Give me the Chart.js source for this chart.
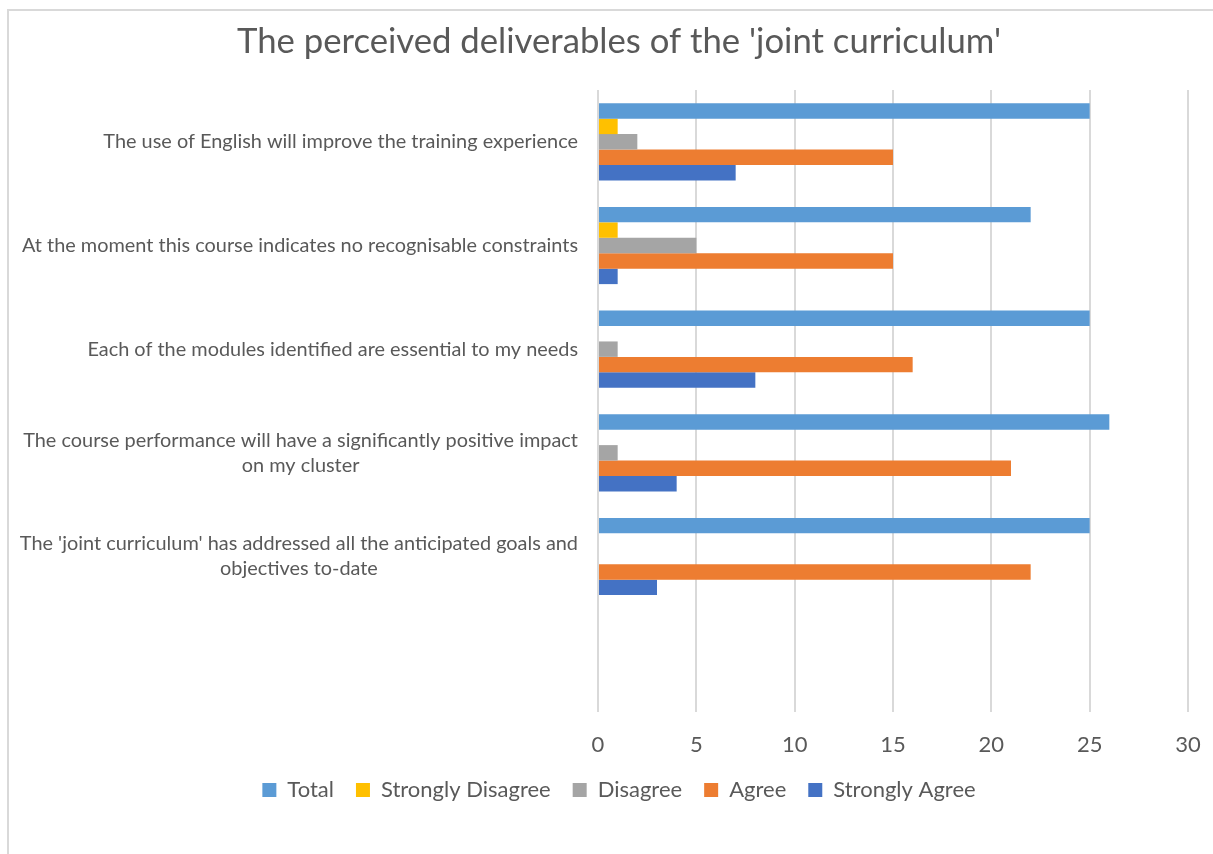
<!DOCTYPE html>
<html><head><meta charset="utf-8">
<script src="https://cdn.jsdelivr.net/npm/chart.js@4.4.1/dist/chart.umd.min.js"></script>
<style>
html,body{margin:0;padding:0;background:#fff;overflow:hidden;width:1213px;height:854px;}
#frame{position:absolute;left:7px;top:9px;width:1300px;height:900px;border:2px solid #d9d9d9;box-sizing:border-box;}
#wrap{position:absolute;left:0;top:0;width:1213px;height:854px;}
</style></head><body>
<div id="frame"></div>
<div id="wrap"><canvas id="c"></canvas></div>
<script>
const chartTitle = "The perceived deliverables of the 'joint curriculum'";
const categories = [
  "The use of English will improve the training experience",
  "At the moment this course indicates no recognisable constraints",
  "Each of the modules identified are essential to my needs",
  ["The course performance will have a significantly positive impact", "on my cluster"],
  ["The 'joint curriculum' has addressed all the anticipated goals and", "objectives to-date"],
  ""
];
const seriesNames = ["Total", "Strongly Disagree", "Disagree", "Agree", "Strongly Agree"];
const total = [25, 22, 25, 26, 25];
const stronglyDisagree = [1, 1, 0, 0, 0];
const disagree = [2, 5, 1, 1, 0];
const agree = [15, 15, 16, 21, 22];
const stronglyAgree = [7, 1, 8, 4, 3];
const xTicks = [0, 5, 10, 15, 20, 25, 30];
const seriesColors = ["#5B9BD5", "#FFC000", "#A5A5A5", "#ED7D31", "#4472C4"];

const FONT = "Lato, 'Open Sans', sans-serif";
const TEXT = "#595959";
function fit(text, w) {
  const c = document.createElement('canvas').getContext('2d');
  c.font = "100px " + FONT;
  return Math.round(1000 * w / c.measureText(text).width) / 10;
}
const sT = fit(chartTitle, 764);
const sY = fit(categories[1], 556);
const sL = fit("Strongly Disagree", 170);
const sX = sL;

const PLOT_TOP = 90, PLOT_BOTTOM = 712, PLOT_LEFT = 598, LEFT_PAD = 50, RIGHT_PAD = 25;
const titlePadTop = 42 - 0.6 * sT;
const titlePadBottom = PLOT_TOP - titlePadTop - 1.2 * sT;
const xTickPad = 745 - PLOT_BOTTOM - 0.6 * sX;
const legendPad = 22;
const legendTop = 790 - legendPad - sL / 2;
const legendBottom = legendTop + sL + legendPad + 10;
const bottomPad = 854 - legendBottom;

const yLabelPlugin = {
  id: 'yLabels',
  afterDraw(chart) {
    const {ctx, chartArea} = chart;
    const yScale = chart.scales.y;
    ctx.save();
    ctx.font = sY + "px " + FONT;
    ctx.fillStyle = TEXT;
    ctx.textAlign = 'center';
    ctx.textBaseline = 'middle';
    const right = chartArea.left - 20;
    chart.data.labels.forEach((lab, i) => {
      const lines = Array.isArray(lab) ? lab : [lab];
      if (!lines.join('')) return;
      const w = Math.max(...lines.map(l => ctx.measureText(l).width));
      const cx = right - w / 2;
      const cy = yScale.getPixelForValue(i);
      const lh = 25;
      lines.forEach((l, k) => ctx.fillText(l, cx, cy + (k - (lines.length - 1) / 2) * lh));
    });
    ctx.restore();
  }
};

const seriesData = [total, stronglyDisagree, disagree, agree, stronglyAgree];
new Chart(document.getElementById('c'), {
  type: 'bar',
  data: {
    labels: categories,
    datasets: seriesNames.map((n, i) => ({
      label: n,
      data: seriesData[i],
      backgroundColor: seriesColors[i],
      borderWidth: 0,
      barPercentage: 1,
      categoryPercentage: 0.745
    }))
  },
  options: {
    indexAxis: 'y',
    responsive: true,
    maintainAspectRatio: false,
    animation: false,
    layout: {padding: {top: 0, left: LEFT_PAD, right: RIGHT_PAD, bottom: bottomPad}},
    plugins: {
      title: {
        display: true,
        text: chartTitle,
        color: TEXT,
        font: {family: FONT, size: sT, weight: 'normal'},
        padding: {top: titlePadTop, bottom: titlePadBottom}
      },
      legend: {
        position: 'bottom',
        labels: {
          color: TEXT,
          font: {family: FONT, size: sL},
          boxWidth: 14,
          boxHeight: 14,
          padding: legendPad
        }
      },
      tooltip: {enabled: false}
    },
    scales: {
      x: {
        min: xTicks[0],
        max: xTicks[xTicks.length - 1],
        ticks: {stepSize: xTicks[1] - xTicks[0], color: TEXT, font: {family: FONT, size: sX}, padding: xTickPad},
        grid: {color: '#d9d9d9', lineWidth: 2, drawTicks: false},
        border: {display: false},
        afterFit(scale) {
          scale.height = legendTop - PLOT_BOTTOM;
          scale.paddingRight = 0;
          scale.paddingLeft = 0;
        }
      },
      y: {
        ticks: {display: false},
        grid: {display: false},
        border: {display: false},
        afterFit(scale) { scale.width = PLOT_LEFT - LEFT_PAD; }
      }
    }
  },
  plugins: [yLabelPlugin]
});
</script>
</body></html>
